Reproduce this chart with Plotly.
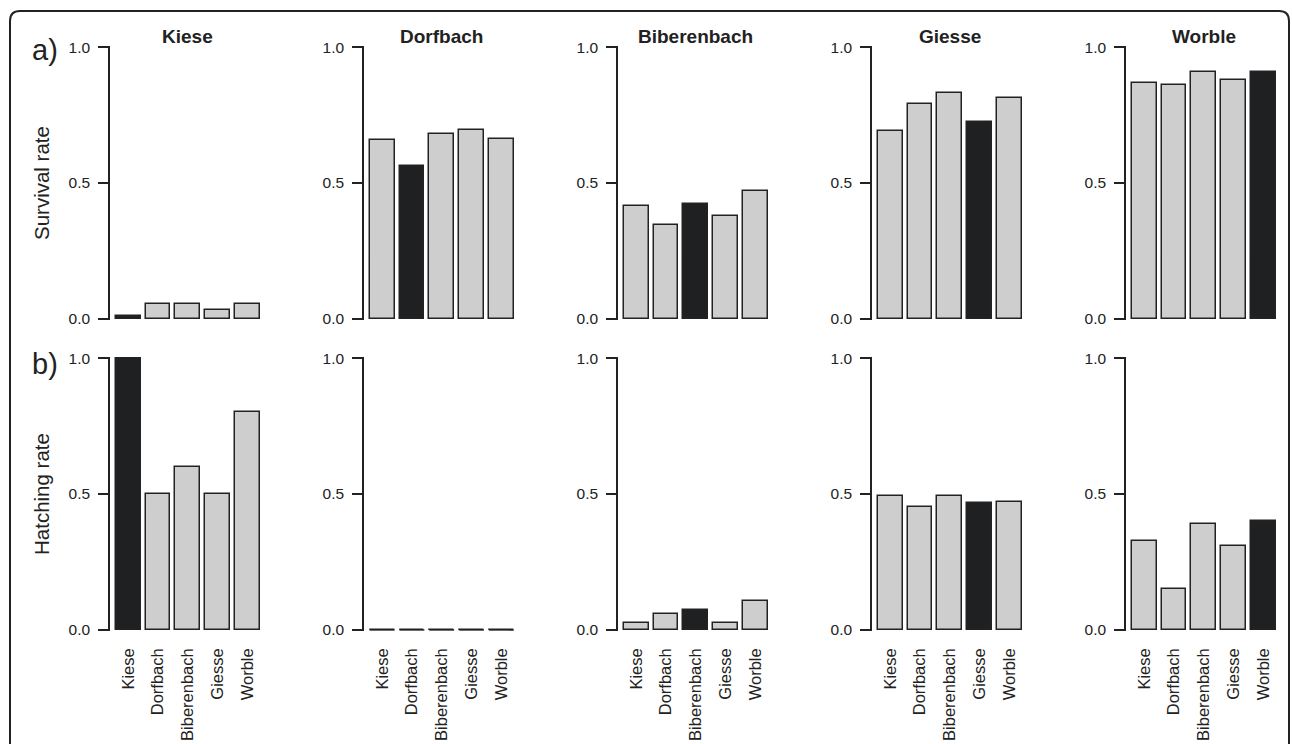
import plotly.graph_objects as go

sites = ["Kiese", "Dorfbach", "Biberenbach", "Giesse", "Worble"]

# Survival rate (row a), per home stream panel; bars = origin populations
surv_kiese = [0.010, 0.055, 0.055, 0.033, 0.055]
surv_dorfbach = [0.658, 0.564, 0.681, 0.695, 0.661]
surv_biberenbach = [0.415, 0.344, 0.423, 0.379, 0.471]
surv_giesse = [0.692, 0.790, 0.832, 0.725, 0.811]
surv_worble = [0.869, 0.860, 0.910, 0.880, 0.909]

# Hatching rate (row b)
hatch_kiese = [1.0, 0.5, 0.6, 0.5, 0.8]
hatch_dorfbach = [0.0, 0.0, 0.0, 0.0, 0.0]
hatch_biberenbach = [0.025, 0.059, 0.072, 0.027, 0.107]
hatch_giesse = [0.493, 0.453, 0.494, 0.467, 0.469]
hatch_worble = [0.326, 0.152, 0.389, 0.307, 0.399]

row_labels = ["a)", "b)"]
row_titles = ["Survival rate", "Hatching rate"]
ytick_vals = [0, 0.5, 1.0]
ytick_text = ["0.0", "0.5", "1.0"]

rows = [
    [surv_kiese, surv_dorfbach, surv_biberenbach, surv_giesse, surv_worble],
    [hatch_kiese, hatch_dorfbach, hatch_biberenbach, hatch_giesse, hatch_worble],
]

W, H = 1292, 744
INK = "#222222"
GREY = "#cecece"
DARK = "#1f2022"
FONT = "Liberation Sans, Arial, Helvetica, sans-serif"


def fx(p):
    return p / W


def fy(p):
    return 1 - p / H


panel_left = [110, 364, 618, 872, 1126]
panel_w = 155.5
row_top = [46, 357]
row_bot = [320, 631]
BAR_W = 1 / 1.2
idx = list(range(len(sites)))

fig = go.Figure()
layout = {}
for r in range(2):
    for c in range(5):
        k = r * 5 + c + 1
        xa = "x" if k == 1 else f"x{k}"
        ya = "y" if k == 1 else f"y{k}"
        vals = rows[r][c]
        colors = [DARK if i == c else GREY for i in idx]
        fig.add_trace(go.Bar(
            x=idx, y=vals, width=BAR_W, marker=dict(color=colors, line=dict(color=INK, width=1.5)),
            xaxis=xa, yaxis=ya, showlegend=False, hoverinfo="skip"))
        # zero-height bars: draw their outline as a flat stroke
        zx, zy = [], []
        for i, v in enumerate(vals):
            if v == 0:
                zx += [i - BAR_W / 2, i + BAR_W / 2, None]
                zy += [v, v, None]
        if zx:
            fig.add_trace(go.Scatter(x=zx, y=zy, mode="lines", line=dict(color=INK, width=1.5),
                                     xaxis=xa, yaxis=ya, showlegend=False, hoverinfo="skip"))
        xkey = "xaxis" if k == 1 else f"xaxis{k}"
        ykey = "yaxis" if k == 1 else f"yaxis{k}"
        layout[xkey] = dict(
            domain=[fx(panel_left[c]), fx(panel_left[c] + panel_w)], anchor=ya, automargin=False,
            range=[-0.61, 4.61], showgrid=False, zeroline=False, showline=False, ticks="",
            tickvals=idx, ticktext=sites, showticklabels=(r == 1), tickangle=-90,
            tickfont=dict(family=FONT, size=16.5, color=INK), ticklabelstandoff=13, fixedrange=True)
        layout[ykey] = dict(
            domain=[fy(row_bot[r]), fy(row_top[r])], anchor=xa, automargin=False,
            range=[-0.004, 1.004], showgrid=False, zeroline=False, showline=True,
            linecolor=INK, linewidth=1.5, ticks="outside", ticklen=10, tickwidth=1.5, tickcolor=INK,
            tickvals=ytick_vals, ticktext=ytick_text,
            tickfont=dict(family=FONT, size=15.5, color=INK), ticklabelstandoff=5, fixedrange=True)

annotations = []
for c, name in enumerate(sites):
    annotations.append(dict(
        text=f"<b>{name}</b>", x=fx(panel_left[c] + panel_w / 2), y=fy(37), xref="paper", yref="paper",
        xanchor="center", yanchor="middle", showarrow=False, font=dict(family=FONT, size=19, color=INK)))
label_y = [50, 364]
for r in range(2):
    annotations.append(dict(
        text=row_labels[r], x=fx(30), y=fy(label_y[r]), xref="paper", yref="paper",
        xanchor="left", yanchor="middle", showarrow=False, font=dict(family=FONT, size=29, color=INK)))
    annotations.append(dict(
        text=row_titles[r], x=fx(41), y=fy((row_top[r] + row_bot[r]) / 2), xref="paper", yref="paper",
        xanchor="center", yanchor="middle", textangle=-90, showarrow=False,
        font=dict(family=FONT, size=20.5, color=INK)))

# rounded outer frame
x0, y0, x1, y1, rad = 10, 11, 1289, 770, 10
path = (f"M {fx(x0)},{fy(y1)} L {fx(x0)},{fy(y0 + rad)} Q {fx(x0)},{fy(y0)} {fx(x0 + rad)},{fy(y0)} "
        f"L {fx(x1 - rad)},{fy(y0)} Q {fx(x1)},{fy(y0)} {fx(x1)},{fy(y0 + rad)} L {fx(x1)},{fy(y1)}")
shapes = [dict(type="path", path=path, xref="paper", yref="paper", line=dict(color=INK, width=2), layer="below")]

fig.update_layout(
    width=W, height=H, margin=dict(l=0, r=0, t=0, b=0, autoexpand=False),
    paper_bgcolor="white", plot_bgcolor="white", bargap=0,
    annotations=annotations, shapes=shapes, font=dict(family=FONT, color=INK),
    **layout)

fig.write_html("out.html", post_script="document.body.style.margin='0';",
               config={"displayModeBar": False})
